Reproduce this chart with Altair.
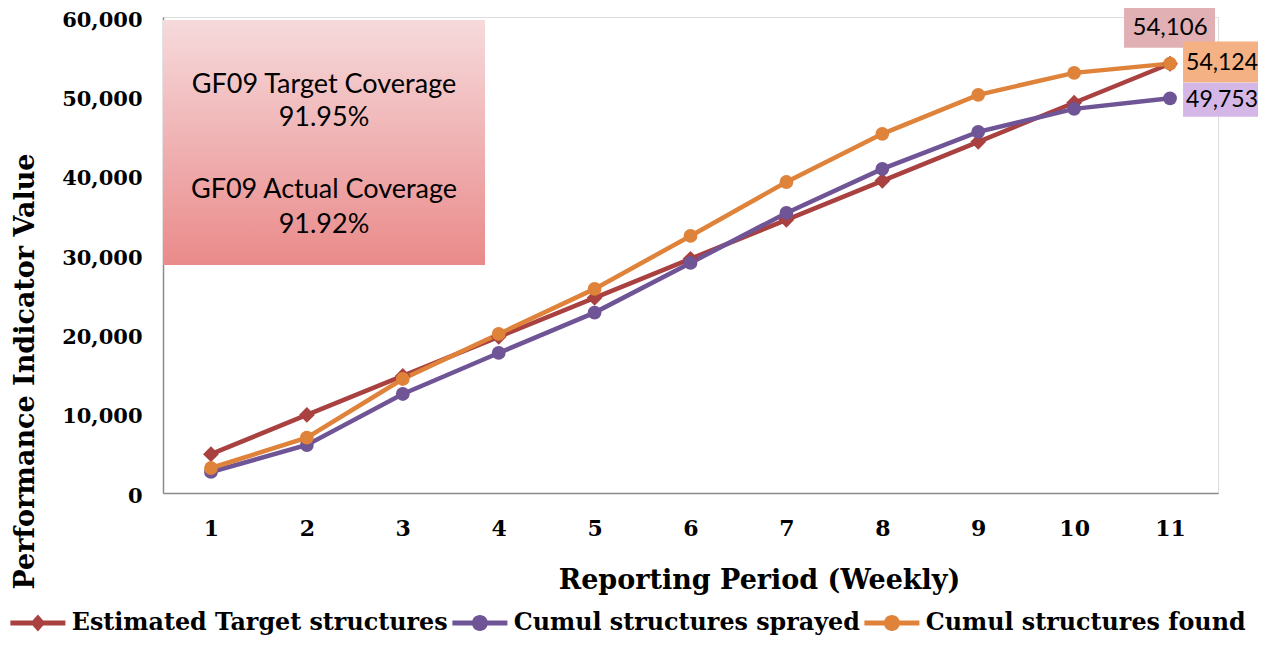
import altair as alt
import pandas as pd

weeks = [1, 2, 3, 4, 5, 6, 7, 8, 9, 10, 11]
series_names = ["Estimated Target structures", "Cumul structures sprayed", "Cumul structures found"]
target = [4900, 9840, 14760, 19680, 24600, 29520, 34430, 39350, 44270, 49190, 54106]
sprayed = [2650, 6050, 12480, 17650, 22740, 29000, 35300, 40860, 45520, 48420, 49753]
found = [3150, 6970, 14370, 20050, 25730, 32400, 39200, 45270, 50190, 52960, 54124]
y_ticks = [0, 10000, 20000, 30000, 40000, 50000, 60000]
box_lines = ["GF09 Target Coverage", "91.95%", "GF09 Actual Coverage", "91.92%"]

line_colors = ["#a8413f", "#6f5496", "#df823a"]
label_box_colors = ["#e0b0b4", "#d5b7e7", "#f4b183"]

rows = []
for name, vals in zip(series_names, [target, sprayed, found]):
    for w, v in zip(weeks, vals):
        rows.append({"week": w, "value": v, "series": name})
df = pd.DataFrame(rows)

SERIF = "DejaVu Serif"
SANS = "Lato"

x_enc = alt.X(
    "week:Q",
    scale=alt.Scale(domain=[0.5, 11.5], nice=False, zero=False),
    axis=alt.Axis(
        values=weeks, format="d", grid=False, ticks=False, tickSize=0,
        labelFont=SERIF, labelFontWeight="bold", labelFontSize=22, labelColor="black",
        labelBaseline="middle", labelPadding=35,
        domainColor="#8a8a8a", domainWidth=1.5,
        title="Reporting Period (Weekly)", titleFont=SERIF, titleFontWeight="bold",
        titleFontSize=27, titleColor="black", titleX=596, titleY=87,
        titleAlign="center", titleBaseline="middle",
    ),
)
y_enc = alt.Y(
    "value:Q",
    scale=alt.Scale(domain=[0, 60000], nice=False),
    axis=alt.Axis(
        values=y_ticks, format=",d", grid=False, ticks=False, tickSize=0,
        labelFont=SERIF, labelFontWeight="bold", labelFontSize=21, labelColor="black",
        labelPadding=21, labelOffset=3,
        domainColor="#8a8a8a", domainWidth=1.5,
        title="Performance Indicator Value", titleFont=SERIF, titleFontWeight="bold",
        titleFontSize=27, titleColor="black", titleX=-138, titleY=354,
        titleAngle=270, titleAlign="center", titleBaseline="middle",
    ),
)

color_scale = alt.Scale(domain=series_names, range=line_colors)

base = alt.Chart(df)

lines = base.mark_line(strokeWidth=4.5).encode(
    x=x_enc, y=y_enc,
    color=alt.Color("series:N", scale=color_scale, legend=None),
)

pts_diamond = base.transform_filter(
    alt.datum.series == series_names[0]
).mark_point(shape="diamond", filled=True, opacity=1, size=250).encode(
    x="week:Q", y="value:Q",
    color=alt.Color("series:N", scale=color_scale, legend=None),
)
pts_circle = base.transform_filter(
    alt.datum.series != series_names[0]
).mark_point(shape="circle", filled=True, opacity=1, size=190).encode(
    x="week:Q", y="value:Q",
    color=alt.Color("series:N", scale=color_scale, legend=None),
)

rect = "M-2.75,-0.25 H2.75 V0.25 H-2.75 Z "
circle_path = rect + "M0.8,0 A0.8,0.8 0 1,1 -0.8,0 A0.8,0.8 0 1,1 0.8,0 Z"
diamond_path = rect + "M0,-0.85 L0.75,0 L0,0.85 L-0.75,0 Z"

legend_layer = base.transform_filter("false").mark_point(filled=True, opacity=1).encode(
    x="week:Q", y="value:Q",
    color=alt.Color(
        "series:N", scale=alt.Scale(domain=series_names, range=line_colors),
        legend=alt.Legend(
            title=None, orient="none", direction="horizontal", columns=3,
            legendX=-137, legendY=594, padding=0,
            symbolSize=400, symbolStrokeWidth=0, labelOffset=22,
            columnPadding=4,
            labelFont=SERIF, labelFontWeight="bold", labelFontSize=23.8, labelColor="black",
            labelLimit=600,
        ),
    ),
    shape=alt.Shape(
        "series:N",
        scale=alt.Scale(domain=series_names, range=[diamond_path, circle_path, circle_path]),
        legend=alt.Legend(title=None),
    ),
)

# annotation box with gradient
box = alt.Chart(pd.DataFrame({"a": [0]})).mark_rect(
    color=alt.LinearGradient(
        gradient="linear",
        stops=[alt.GradientStop(color="#f6dadc", offset=0),
               alt.GradientStop(color="#ea8a8a", offset=1)],
        x1=0, x2=0, y1=0, y2=1,
    )
).encode(x=alt.value(0), x2=alt.value(322), y=alt.value(3), y2=alt.value(248))

box_text_y = [68, 101, 173, 208]
box_texts = []
for t, yy in zip(box_lines, box_text_y):
    box_texts.append(
        alt.Chart(pd.DataFrame({"t": [t]})).mark_text(
            font=SANS, fontSize=27, color="black", align="center", baseline="middle"
        ).encode(x=alt.value(161), y=alt.value(yy), text="t:N")
    )

last = df[df.week == weeks[-1]]

def value_label(series, box_color, off, text_dx, text_dy, align, fs):
    d = last[last.series == series]
    b = alt.Chart(d).mark_rect(
        color=box_color, xOffset=off[0], x2Offset=off[1], yOffset=off[2], y2Offset=off[3]
    ).encode(x="week:Q", x2="week:Q", y="value:Q", y2="value:Q")
    t = alt.Chart(d).mark_text(
        font=SANS, fontSize=fs, color="black", align=align, baseline="middle",
        dx=text_dx, dy=text_dy,
    ).encode(x="week:Q", y="value:Q", text=alt.Text("value:Q", format=",d"))
    return [b, t]

labels = []
labels += value_label(series_names[0], label_box_colors[0], (-46, 45, -56, -16), 0, -36, "center", 24)
labels += value_label(series_names[2], label_box_colors[2], (13, 100, -22, 19), 16, -1, "left", 23)
labels += value_label(series_names[1], label_box_colors[1], (13, 100, -15.5, 18.5), 16, 2, "left", 23)

chart = alt.layer(
    box, *box_texts, lines, pts_diamond, pts_circle, *labels, legend_layer
).resolve_scale(color="independent", shape="independent").properties(
    width=1055, height=476,
    autosize=alt.AutoSizeParams(type="none"),
    padding={"left": 155, "top": 9, "right": 40, "bottom": 144},
).configure_view(stroke=None).configure(background="white")

chart.save("out.html", embed_options={"renderer": "svg", "actions": False})
